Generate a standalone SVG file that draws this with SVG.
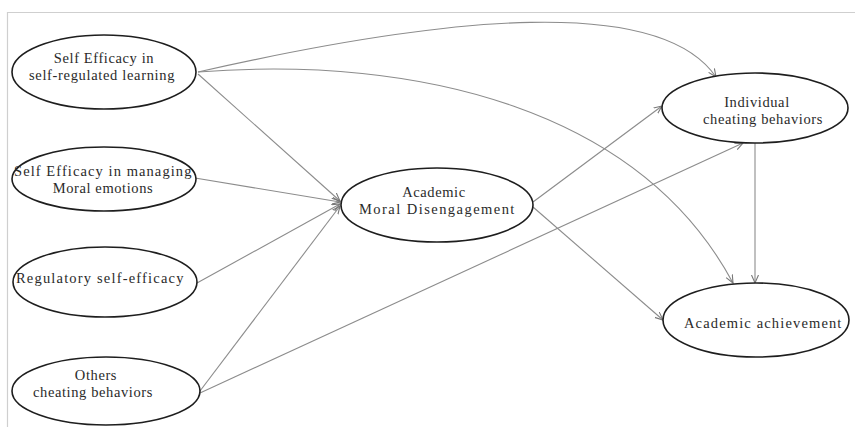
<svg xmlns="http://www.w3.org/2000/svg" width="855" height="427" viewBox="0 0 855 427">
<style>
.node ellipse{fill:#fff;stroke:#1e1e1e;stroke-width:1.6}
.node text{font-family:"Liberation Serif","Times New Roman",serif;font-size:14.5px;letter-spacing:0.6px;fill:#2a2a2a;text-anchor:middle}
.conn path,.conn line{fill:none;stroke:#8c8c8c;stroke-width:1.1;marker-end:url(#arr)}
.frame{stroke:#cfcfcf;stroke-width:1.2;fill:none}
</style>
<defs>
<marker id="arr" markerWidth="10" markerHeight="10" refX="8" refY="4" orient="auto" markerUnits="userSpaceOnUse">
<path d="M0,0.5 L8,4 L0,7.5" fill="none" stroke="#777" stroke-width="1.1"/>
</marker>
</defs>
<rect width="855" height="427" fill="#fff"/>
<path class="frame" d="M7.5,427 L7.5,12.5 L855,12.5"/>
<g id="connectors" class="conn">
<path d="M198,72 C450,15 660,-5 716,77"/>
<path d="M198,72 C420,55 640,110 733,283"/>
<line x1="198" y1="74" x2="340" y2="201"/>
<line x1="195" y1="178" x2="340" y2="202"/>
<line x1="197" y1="283" x2="340" y2="204"/>
<line x1="200" y1="391" x2="340" y2="206"/>
<line x1="200" y1="393" x2="743" y2="143"/>
<line x1="533" y1="202" x2="662" y2="106"/>
<line x1="533" y1="207" x2="663" y2="320"/>
<line x1="755" y1="143" x2="755" y2="283"/>
</g>
<g id="n1" class="node"><ellipse cx="104" cy="72" rx="92" ry="37"/><text x="104" y="63">Self Efficacy in</text><text x="102" y="80" textLength="146">self-regulated learning</text></g>
<g id="n2" class="node"><ellipse cx="104" cy="179" rx="92" ry="32"/><text x="103" y="176" textLength="178">Self Efficacy in managing</text><text x="103" y="193">Moral emotions</text></g>
<g id="n3" class="node"><ellipse cx="105" cy="282" rx="92" ry="35"/><text x="100" y="283" textLength="168">Regulatory self-efficacy</text></g>
<g id="n4" class="node"><ellipse cx="106" cy="391" rx="94" ry="34"/><text x="96" y="380">Others</text><text x="93" y="397">cheating behaviors</text></g>
<g id="n5" class="node"><ellipse cx="437" cy="205" rx="96" ry="37"/><text x="434" y="197">Academic</text><text x="437" y="214" textLength="156">Moral Disengagement</text></g>
<g id="n6" class="node"><ellipse cx="755" cy="108" rx="93" ry="35"/><text x="757" y="107">Individual</text><text x="763" y="124">cheating behaviors</text></g>
<g id="n7" class="node"><ellipse cx="756" cy="320" rx="93" ry="37"/><text x="763" y="328" textLength="158">Academic achievement</text></g>
</svg>
